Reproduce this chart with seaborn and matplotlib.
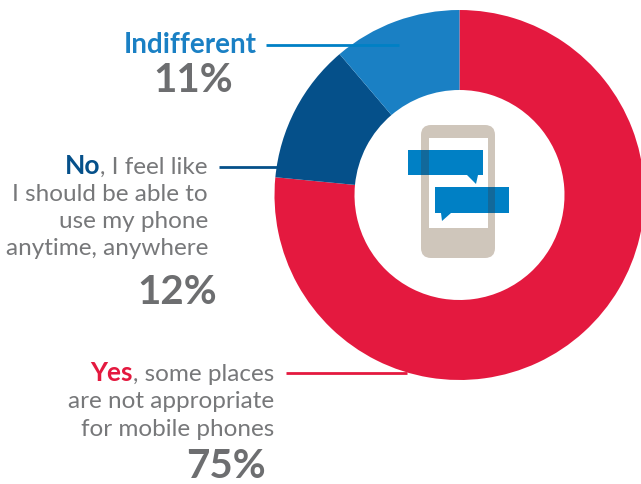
import matplotlib
matplotlib.use('Agg')
import matplotlib.pyplot as plt
from matplotlib.patches import FancyBboxPatch, Rectangle, Polygon
import seaborn as sns

# share of answers, clockwise from the top
labels = ['Yes', 'No', 'Indifferent']
values = [75, 12, 11]
colors = ['#e4193f', '#05508a', '#1a80c4']
pct_labels = ['75%', '12%', '11%']

sns.set_theme(style='white')
plt.rcParams['font.family'] = ['Lato', 'DejaVu Sans']

W, H = 641, 485
GREY = '#77787a'
PCT_GREY = '#6d6e70'
TAIL = '#0080c5'

fig = plt.figure(figsize=(W / 100, H / 100), dpi=100)
ax = fig.add_axes([0, 0, 1, 1])


def Y(y):
    return H - y - 1


# donut
ax.pie(values, colors=colors, startangle=90, counterclock=False,
       center=(459.5, Y(195)), radius=185,
       wedgeprops=dict(width=80, linewidth=0))
ax.set_xlim(0, W)
ax.set_ylim(0, H)
ax.set_aspect('equal')
ax.axis('off')

# leader lines
ax.plot([266, 399], [Y(45), Y(45)], color='#0080c5', lw=2, solid_capstyle='butt')
ax.plot([219, 278], [Y(167), Y(167)], color='#05508a', lw=2, solid_capstyle='butt')
ax.plot([286, 407], [Y(373), Y(373)], color='#e4193f', lw=2, solid_capstyle='butt')

# phone icon
ax.add_patch(FancyBboxPatch((429, Y(250)), 58, 117, boxstyle='round,pad=8,rounding_size=10',
                            fc='#cfc6bb', ec='none'))
ax.add_patch(Rectangle((429, Y(228)), 59, 90, fc='white', ec='none'))
ax.add_patch(Rectangle((408, Y(175)), 75, 25, fc=TAIL, ec='none'))
ax.add_patch(Polygon([(467, Y(175)), (478, Y(175)), (476, Y(184))], fc=TAIL, ec='none'))
ax.add_patch(Rectangle((421, Y(175)), 8, 25, fc='#12699b', ec='none'))
ax.add_patch(Rectangle((435, Y(213)), 74, 26, fc=TAIL, ec='none'))
ax.add_patch(Polygon([(441, Y(213)), (451, Y(213)), (442, Y(221))], fc=TAIL, ec='none'))
ax.add_patch(Rectangle((488, Y(213)), 7, 26, fc='#12699b', ec='none'))

# label text
BODY = 17.5
BOLD = 19
PCT = 29
fig.canvas.draw()
rend = fig.canvas.get_renderer()


def lead(x, y, bold, rest, color):
    # bold coloured word followed by the grey rest of the line, right aligned at x
    t = ax.text(x, Y(y), rest, ha='right', va='baseline', fontsize=BODY, color=GREY)
    w = t.get_window_extent(rend).width
    ax.text(x - w, Y(y), bold, ha='right', va='baseline', fontsize=BOLD, color=color, fontweight='bold')


def body(x, y, s):
    ax.text(x, Y(y), s, ha='right', va='baseline', fontsize=BODY, color=GREY)


ax.text(257, Y(52), labels[2], ha='right', va='baseline', fontsize=20, color=colors[2], fontweight='bold')
ax.text(193, Y(91), pct_labels[2], ha='center', va='baseline', fontsize=PCT, color=PCT_GREY, fontweight='bold')

lead(208, 173, labels[1], ', I feel like', colors[1])
body(208, 200, 'I should be able to')
body(208, 227, 'use my phone')
body(208, 254, 'anytime, anywhere')
ax.text(177, Y(303), pct_labels[1], ha='center', va='baseline', fontsize=PCT, color=PCT_GREY, fontweight='bold')

lead(274, 380, labels[0], ', some places', colors[0])
body(274, 407, 'are not appropriate')
body(274, 435, 'for mobile phones')
ax.text(226, Y(477), pct_labels[0], ha='center', va='baseline', fontsize=PCT, color=PCT_GREY, fontweight='bold')

fig.savefig('out.png', dpi=100)
